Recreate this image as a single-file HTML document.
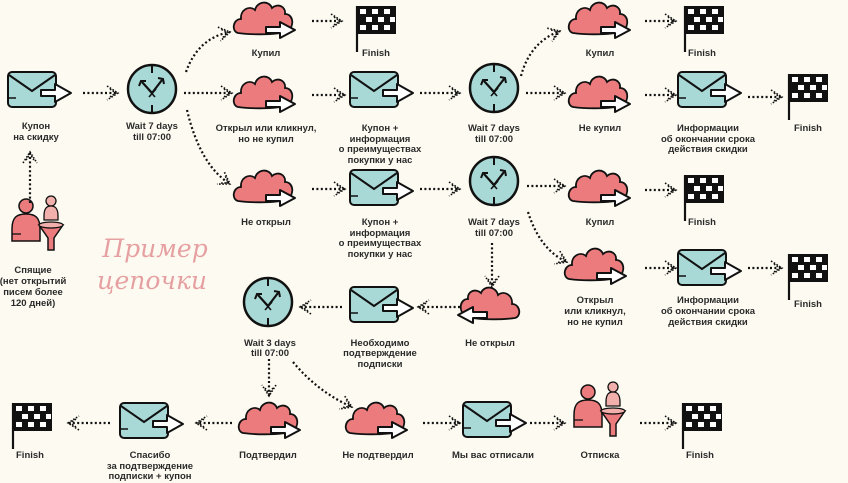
<!DOCTYPE html>
<html><head><meta charset="utf-8">
<style>
html,body{margin:0;padding:0;background:#fdfbf1;}
svg{display:block;}
text{font-family:"Liberation Sans",sans-serif;font-size:9.5px;font-weight:bold;fill:#2a2a2a;text-anchor:middle;}
.sc{font-family:"DejaVu Serif","Liberation Serif",serif;font-style:italic;font-weight:normal;font-size:25px;fill:#e6a0a1;}
.d{fill:none;stroke:#111;stroke-width:2.2;stroke-dasharray:2 2.4;marker-end:url(#ah);}
</style></head><body>
<svg width="848" height="483" viewBox="0 0 848 483">
<defs>
<marker id="ah" viewBox="-12 -8 14 16" refX="0" refY="0" markerWidth="14" markerHeight="16" orient="auto" markerUnits="userSpaceOnUse">
<path d="M-11,-7 L0,0 L-11,7 M-8,-4 L-2,0 L-8,4" fill="none" stroke="#111" stroke-width="1.6" stroke-dasharray="1.6 1.6"/>
</marker>
<g id="env">
<rect x="-27" y="-18" width="48" height="35" rx="4" fill="#a9d9d6" stroke="#111" stroke-width="2"/>
<path d="M-26,-15 L-3,1 L20,-15" fill="none" stroke="#111" stroke-width="2"/>
<path d="M-27,8 h8" stroke="#111" stroke-width="1.5"/>
<path d="M6,0 h14 v-6 l16,9 l-16,9 v-6 h-14 z" fill="#fff" stroke="#111" stroke-width="2" stroke-linejoin="round"/>
</g>
<g id="clk">
<circle r="24" fill="#a9d9d6" stroke="#111" stroke-width="2.5"/>
<path d="M0,-24 v8 M0,24 v-8" stroke="#111" stroke-width="2"/>
<path d="M0,4 L-10,-7 M0,4 L10,-9" stroke="#111" stroke-width="2.2"/>
<path d="M-13,-3 L-11,-8 L-6,-8 M6,-11 L11,-10 L12,-5" fill="none" stroke="#111" stroke-width="2"/>
<path d="M-4,0 L3,8 M4,0 L-3,8" stroke="#111" stroke-width="1.6"/>
</g>
<g id="cld">
<path d="M-25,13 C-32,11 -30,-1 -22,-1 C-23,-10 -14,-15 -8,-10 C-6,-19 6,-20 9,-12 C14,-17 23,-14 22,-6 C30,-6 32,5 25,11 C17,15 -11,15 -25,13 Z" fill="#ec7b7d" stroke="#111" stroke-width="1.8"/>
<path d="M3,7 h14 v-5 l15,8 l-15,8 v-5 h-14 z" fill="#fff" stroke="#111" stroke-width="2" stroke-linejoin="round"/>
</g>
<g id="flg">
<rect x="0" y="0" width="40" height="28" fill="#111"/>
<g fill="#fff">
<rect x="4" y="3" width="6" height="5"/><rect x="16" y="3" width="6" height="5"/><rect x="28" y="3" width="6" height="5"/>
<rect x="10" y="11" width="6" height="5"/><rect x="22" y="11" width="6" height="5"/><rect x="34" y="11" width="5" height="5"/>
<rect x="4" y="19" width="6" height="5"/><rect x="16" y="19" width="6" height="5"/><rect x="28" y="19" width="6" height="5"/>
</g>
<path d="M1,0 v46" stroke="#111" stroke-width="2.2"/>
</g>
<g id="ppl">
<circle cx="-10" cy="-20" r="7" fill="#ec7b7d" stroke="#111" stroke-width="1.5"/>
<path d="M-24,15 v-12 c0,-12 5,-15 14,-15 c9,0 14,3 14,15 v12 z" fill="#ec7b7d" stroke="#111" stroke-width="1.5"/>
<path d="M-24,8 h9" stroke="#111" stroke-width="1.3"/>
<circle cx="15" cy="-25" r="5" fill="#f2b0ad" stroke="#111" stroke-width="1.3"/>
<path d="M8,-6 v-4 c0,-8 3,-10 7,-10 c4,0 7,2 7,10 v4 z" fill="#f2b0ad" stroke="#111" stroke-width="1.3"/>
<path d="M3,-1 h24 l-9,13 v12 h-6 v-12 z" fill="#ec7b7d" stroke="#111" stroke-width="1.5"/>
<ellipse cx="15" cy="-1" rx="12" ry="3" fill="#f2b0ad" stroke="#111" stroke-width="1.3"/>
</g>
</defs>

<use href="#env" x="35" y="90"/>
<use href="#clk" x="152" y="89"/>
<use href="#cld" x="263" y="20"/>
<use href="#flg" x="356" y="6"/>
<use href="#cld" x="263" y="94"/>
<use href="#env" x="377" y="90"/>
<use href="#clk" x="494" y="88"/>
<use href="#cld" x="598" y="20"/>
<use href="#flg" x="684" y="6"/>
<use href="#cld" x="598" y="94"/>
<use href="#env" x="705" y="90"/>
<use href="#flg" x="788" y="74"/>
<use href="#cld" x="263" y="188"/>
<use href="#env" x="377" y="188"/>
<use href="#clk" x="494" y="181"/>
<use href="#cld" x="598" y="188"/>
<use href="#flg" x="684" y="175"/>
<use href="#cld" x="594" y="266"/>
<use href="#env" x="705" y="268"/>
<use href="#flg" x="788" y="254"/>
<use href="#clk" x="268" y="302"/>
<use href="#env" x="377" y="305"/>
<use href="#cld" x="490" y="305" transform="translate(980,0) scale(-1,1)"/>
<use href="#flg" x="12" y="403"/>
<use href="#env" x="147" y="421"/>
<use href="#cld" x="268" y="420"/>
<use href="#cld" x="375" y="420"/>
<use href="#env" x="490" y="420"/>
<use href="#ppl" x="598" y="412"/>
<use href="#flg" x="682" y="403"/>
<use href="#ppl" x="36" y="226"/>

<path class="d" d="M83,93 H118"/>
<path class="d" d="M30,203 V152"/>
<path class="d" d="M186,72 Q198,38 230,32"/>
<path class="d" d="M184,93 H232"/>
<path class="d" d="M187,110 Q200,165 230,184"/>
<path class="d" d="M312,21 H342"/>
<path class="d" d="M312,95 H345"/>
<path class="d" d="M312,189 H345"/>
<path class="d" d="M420,93 H460"/>
<path class="d" d="M420,189 H460"/>
<path class="d" d="M521,76 Q530,42 560,31"/>
<path class="d" d="M526,93 H565"/>
<path class="d" d="M645,21 H676"/>
<path class="d" d="M645,95 H676"/>
<path class="d" d="M748,97 H782"/>
<path class="d" d="M527,186 H565"/>
<path class="d" d="M528,212 Q540,250 567,262"/>
<path class="d" d="M492,243 V287"/>
<path class="d" d="M645,190 H676"/>
<path class="d" d="M645,268 H676"/>
<path class="d" d="M748,268 H782"/>
<path class="d" d="M460,307 H418"/>
<path class="d" d="M342,307 H300"/>
<path class="d" d="M269,359 V396"/>
<path class="d" d="M293,362 Q318,392 352,407"/>
<path class="d" d="M232,423 H196"/>
<path class="d" d="M110,423 H68"/>
<path class="d" d="M423,423 H460"/>
<path class="d" d="M530,423 H565"/>
<path class="d" d="M640,423 H676"/>

<text x="36" y="129">Купон</text><text x="36" y="140">на скидку</text>
<text x="152" y="129">Wait 7 days</text><text x="152" y="140">till 07:00</text>
<text x="266" y="56">Купил</text>
<text x="376" y="56">Finish</text>
<text x="266" y="131">Открыл или кликнул,</text><text x="266" y="142">но не купил</text>
<text x="380" y="131">Купон +</text><text x="380" y="142">информация</text><text x="380" y="152">о преимуществах</text><text x="380" y="163">покупки у нас</text>
<text x="494" y="131">Wait 7 days</text><text x="494" y="142">till 07:00</text>
<text x="600" y="56">Купил</text>
<text x="702" y="56">Finish</text>
<text x="600" y="131">Не купил</text>
<text x="708" y="131">Информации</text><text x="708" y="142">об окончании срока</text><text x="708" y="152">действия скидки</text>
<text x="808" y="131">Finish</text>
<text x="266" y="225">Не открыл</text>
<text x="380" y="225">Купон +</text><text x="380" y="236">информация</text><text x="380" y="246">о преимуществах</text><text x="380" y="257">покупки у нас</text>
<text x="494" y="225">Wait 7 days</text><text x="494" y="236">till 07:00</text>
<text x="600" y="225">Купил</text>
<text x="702" y="225">Finish</text>
<text x="595" y="303">Открыл</text><text x="595" y="314">или кликнул,</text><text x="595" y="325">но не купил</text>
<text x="708" y="303">Информации</text><text x="708" y="314">об окончании срока</text><text x="708" y="325">действия скидки</text>
<text x="808" y="307">Finish</text>
<text x="270" y="346">Wait 3 days</text><text x="270" y="356">till 07:00</text>
<text x="380" y="346">Необходимо</text><text x="380" y="356">подтверждение</text><text x="380" y="367">подписки</text>
<text x="490" y="346">Не открыл</text>
<text x="30" y="458">Finish</text>
<text x="150" y="458">Спасибо</text><text x="150" y="469">за подтверждение</text><text x="150" y="479">подписки + купон</text>
<text x="268" y="458">Подтвердил</text>
<text x="378" y="458">Не подтвердил</text>
<text x="493" y="458">Мы вас отписали</text>
<text x="600" y="458">Отписка</text>
<text x="700" y="458">Finish</text>
<text x="33" y="273">Спящие</text><text x="33" y="284">(нет открытий</text><text x="33" y="295">писем более</text><text x="33" y="306">120 дней)</text>
<text class="sc" x="155" y="257">Пример</text>
<text class="sc" x="152" y="289">цепочки</text>
</svg>
</body></html>
